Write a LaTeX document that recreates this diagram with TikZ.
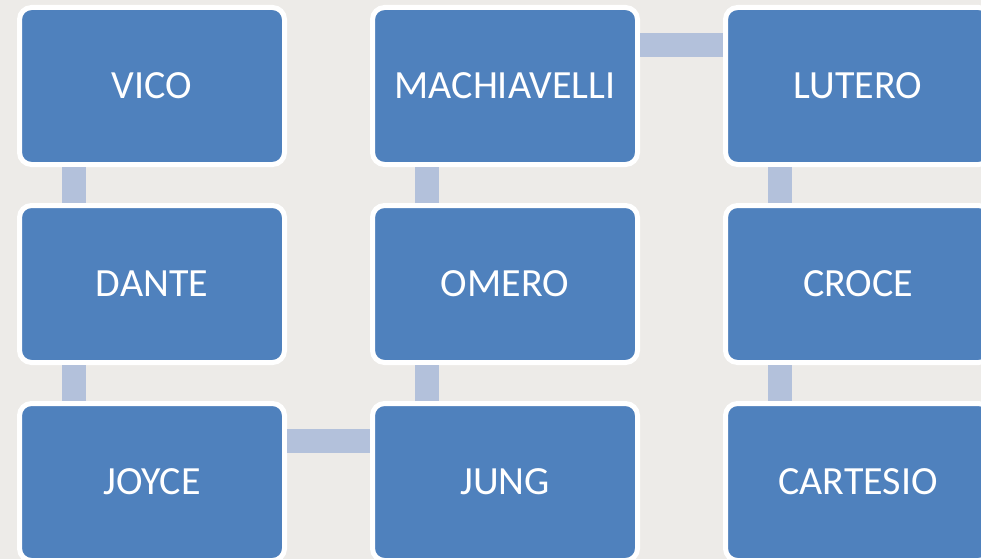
\documentclass[tikz,border=0pt]{standalone}
\usepackage{fontspec}
\setmainfont{Carlito}
\usetikzlibrary{positioning}
\definecolor{boxblue}{HTML}{4F81BD}
\definecolor{linkblue}{HTML}{B3C1DB}
\definecolor{paper}{HTML}{EDEBE8}
\begin{document}
\begin{tikzpicture}[x=1pt,y=1pt,box/.style={draw=white,
				line width=5pt,
				fill=boxblue,
				rounded corners=12pt,
				text=white,
				minimum width=265pt,
				minimum height=157pt,
				font=\fontsize{40}{48}\selectfont},
			link/.style={draw=linkblue, line width=24pt}]
			\fill[paper] (0,0) rectangle (981,-559);
			\useasboundingbox (0,0) rectangle (981,-559);
			\node[box] (vico) at (152,-86) {VICO};
			\node[box,below=36pt of vico] (dante) {DANTE};
			\node[box,below=36pt of dante] (joyce) {JOYCE};
			\node[box,right=83pt of joyce] (jung) {JUNG};
			\node[box,above=36pt of jung] (omero) {OMERO};
			\node[box,above=36pt of omero] (machiavelli) {MACHIAVELLI};
			\node[box,right=83pt of machiavelli] (lutero) {LUTERO};
			\node[box,below=36pt of lutero] (croce) {CROCE};
			\node[box,below=36pt of croce] (cartesio) {CARTESIO};
			\draw[link] ([xshift=56.5pt]vico.south west)--([xshift=56.5pt]dante.north west);
			\draw[link] ([xshift=56.5pt]dante.south west)--([xshift=56.5pt]joyce.north west);
			\draw[link] ([yshift=-40pt]joyce.north east)--([yshift=-40pt]jung.north west);
			\draw[link] ([xshift=56.5pt]jung.north west)--([xshift=56.5pt]omero.south west);
			\draw[link] ([xshift=56.5pt]omero.north west)--([xshift=56.5pt]machiavelli.south west);
			\draw[link] ([yshift=-40pt]machiavelli.north east)--([yshift=-40pt]lutero.north west);
			\draw[link] ([xshift=56.5pt]lutero.south west)--([xshift=56.5pt]croce.north west);
			\draw[link] ([xshift=56.5pt]croce.south west)--([xshift=56.5pt]cartesio.north west);
		\end{tikzpicture}
\end{document}
